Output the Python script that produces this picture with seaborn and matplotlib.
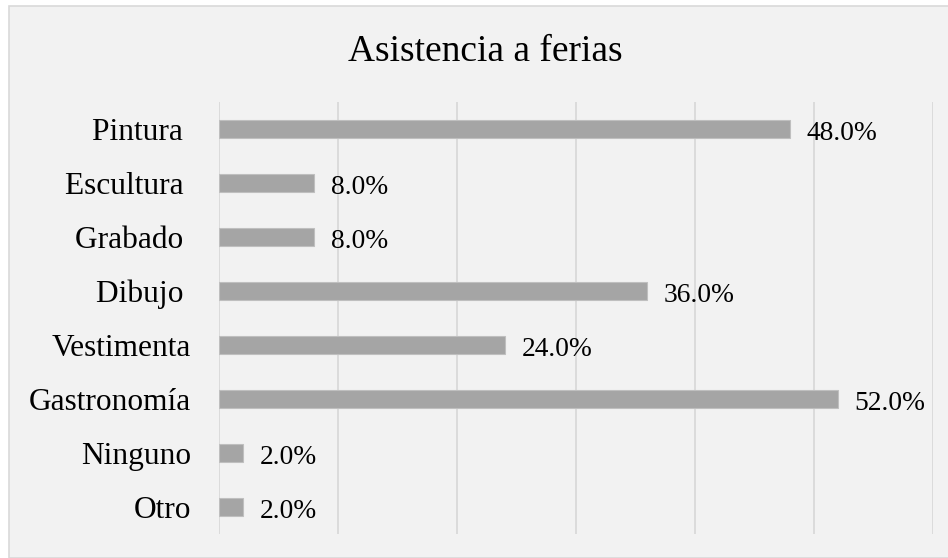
import matplotlib
matplotlib.use("Agg")
import matplotlib.pyplot as plt
import seaborn as sns
import pandas as pd
from matplotlib.patches import Rectangle

categories = ["Pintura", "Escultura", "Grabado", "Dibujo", "Vestimenta",
              "Gastronomía", "Ninguno", "Otro"]
# the first four labels carry a trailing space in the original
tick_labels = ["Pintura ", "Escultura ", "Grabado ", "Dibujo ", "Vestimenta",
               "Gastronomía", "Ninguno", "Otro"]
values = [48.0, 8.0, 8.0, 36.0, 24.0, 52.0, 2.0, 2.0]
df = pd.DataFrame({"categoria": categories, "valor": values})

sns.set_theme(style="white")
plt.rcParams["font.family"] = ["Liberation Serif", "DejaVu Serif"]

fig = plt.figure(figsize=(9.48, 5.58), dpi=100)
fig.patch.set_facecolor("white")
# chart area background with thin border
fig.patches.append(Rectangle((9 / 948, 0), 1, 1 - 6 / 558, transform=fig.transFigure,
                             facecolor="#f2f2f2", edgecolor="#d9d9d9", linewidth=1.2,
                             zorder=-10))

ax = fig.add_axes([219 / 948, 1 - 534 / 558, (933 - 219) / 948, (534 - 102) / 558])
ax.set_facecolor("none")

sns.barplot(data=df, x="valor", y="categoria", orient="h", color="#a5a5a5",
            width=0.35, edgecolor="#bfbfbf", linewidth=0.8, saturation=1, ax=ax)

ax.set_xlim(0, 60)
ax.set_ylim(len(categories) - 0.5, -0.5)
ax.set_xticks(range(0, 61, 10))
ax.set_xticklabels([])
ax.set_yticks(range(len(categories)))
ax.set_yticklabels(tick_labels)
ax.tick_params(axis="x", length=0)
ax.tick_params(axis="y", length=0, pad=20, labelsize=22.6, labelcolor="#000000")
ax.grid(axis="x", color="#d9d9d9", linewidth=1.3)
ax.set_axisbelow(True)
for s in ax.spines.values():
    s.set_visible(False)
ax.set_xlabel("")
ax.set_ylabel("")

for i, v in enumerate(values):
    ax.annotate(f"{v:.1f}%", xy=(v, i), xytext=(12, -3), textcoords="offset points",
                ha="left", va="center", fontsize=19.8, color="#000000")

fig.text(485 / 948, 1 - 52 / 558, "Asistencia a ferias", ha="center",
         va="center", fontsize=27, color="#000000")

fig.savefig("out.png", dpi=100)
